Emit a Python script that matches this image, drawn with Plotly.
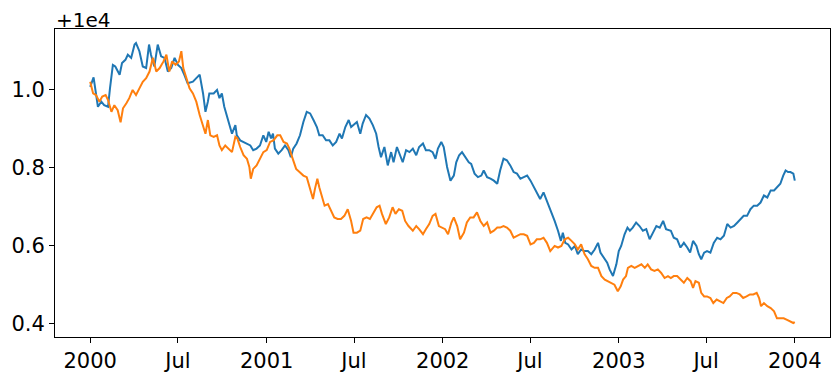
import pandas as pd
import plotly.graph_objects as go

# Days since 2000-01-01 and values (offset from 1e4)
blue_days = [0,7,16,23,29,37,41,47,52,61,66,73,78,85,92,95,102,109,116,122,126,133,140,147,154,161,168,175,182,189,195,202,213,220,227,234,239,244,247,256,263,268,273,278,283,289,294,301,304,311,318,325,332,338,345,352,359,365,370,375,379,383,390,397,404,411,416,421,428,435,442,449,456,463,470,475,482,489,496,503,510,517,522,529,536,541,548,553,560,565,572,579,586,593,598,603,610,617,624,629,636,641,648,655,662,669,676,682,690,696,703,710,716,721,728,733,740,747,754,759,765,771,778,785,790,797,804,811,816,823,830,837,844,850,857,864,871,878,885,892,899,906,913,920,926,933,940,947,954,963,970,976,980,985,991,998,1005,1011,1018,1025,1032,1039,1046,1053,1058,1065,1072,1077,1084,1091,1096,1101,1108,1114,1119,1125,1132,1139,1146,1153,1160,1167,1174,1181,1188,1194,1204,1210,1217,1224,1231,1238,1244,1250,1257,1262,1267,1273,1279,1286,1293,1300,1307,1314,1321,1328,1335,1342,1349,1355,1362,1369,1376,1383,1390,1397,1404,1411,1418,1424,1431,1437,1442,1447,1452,1458,1461]
blue_vals = [1.006,1.030,0.955,0.968,0.959,0.955,1.002,1.062,1.058,1.037,1.067,1.075,1.088,1.080,1.114,1.118,1.097,1.058,1.054,1.114,1.088,1.058,1.114,1.084,1.080,1.045,1.054,1.080,1.062,1.054,1.037,1.015,1.019,1.028,1.037,0.989,0.942,0.968,0.989,0.989,0.998,0.977,0.989,0.955,0.934,0.903,0.886,0.908,0.882,0.869,0.865,0.861,0.856,0.844,0.848,0.856,0.882,0.865,0.891,0.874,0.886,0.848,0.835,0.844,0.856,0.844,0.826,0.848,0.861,0.882,0.916,0.942,0.938,0.921,0.903,0.882,0.882,0.869,0.869,0.856,0.865,0.886,0.874,0.903,0.921,0.903,0.912,0.916,0.886,0.912,0.934,0.925,0.908,0.886,0.852,0.826,0.852,0.805,0.839,0.813,0.852,0.835,0.813,0.844,0.839,0.848,0.831,0.852,0.861,0.844,0.844,0.839,0.822,0.848,0.865,0.852,0.801,0.766,0.779,0.813,0.831,0.839,0.826,0.813,0.809,0.784,0.775,0.779,0.792,0.775,0.771,0.766,0.758,0.792,0.822,0.818,0.805,0.788,0.784,0.771,0.775,0.779,0.766,0.749,0.732,0.719,0.736,0.715,0.689,0.663,0.638,0.612,0.633,0.607,0.603,0.590,0.599,0.578,0.590,0.586,0.586,0.578,0.590,0.607,0.582,0.569,0.556,0.539,0.522,0.552,0.586,0.599,0.629,0.646,0.638,0.646,0.659,0.650,0.638,0.642,0.616,0.633,0.650,0.646,0.663,0.642,0.638,0.620,0.616,0.595,0.607,0.595,0.582,0.612,0.599,0.578,0.565,0.582,0.586,0.582,0.607,0.620,0.616,0.625,0.655,0.646,0.650,0.659,0.668,0.676,0.676,0.693,0.702,0.702,0.710,0.728,0.723,0.741,0.741,0.749,0.758,0.779,0.792,0.788,0.788,0.784,0.766]

orange_days = [0,6,12,19,25,32,37,44,50,57,63,68,75,81,88,95,102,109,116,123,130,137,144,152,158,164,170,177,184,189,193,199,206,213,220,227,234,239,244,249,256,263,268,273,280,287,294,301,305,311,318,325,330,333,338,345,352,359,366,373,380,388,394,401,408,413,421,427,434,442,449,456,462,466,471,475,479,486,493,499,506,513,520,527,534,541,546,553,560,566,573,580,587,594,600,605,613,620,627,633,640,647,653,660,669,676,682,690,696,703,710,716,723,730,736,742,749,754,761,767,775,781,788,795,802,809,816,823,830,837,844,850,857,864,871,878,885,892,899,906,913,920,926,933,940,947,954,963,970,977,984,991,998,1005,1011,1018,1025,1032,1039,1046,1053,1060,1067,1074,1080,1087,1094,1100,1105,1111,1115,1122,1129,1136,1143,1150,1156,1163,1170,1177,1184,1191,1198,1204,1210,1217,1224,1231,1238,1245,1250,1255,1262,1267,1273,1279,1286,1292,1299,1306,1313,1320,1326,1333,1340,1347,1354,1361,1368,1375,1382,1387,1391,1397,1404,1411,1418,1424,1431,1438,1445,1452,1458,1461]
orange_vals = [1.019,0.989,0.985,0.968,0.981,0.985,0.972,0.942,0.959,0.946,0.915,0.951,0.964,0.977,0.998,0.985,1.002,1.019,1.028,1.045,1.080,1.045,1.054,1.071,1.088,1.045,1.071,1.062,1.071,1.097,1.054,1.028,1.002,0.989,0.968,0.934,0.908,0.886,0.921,0.882,0.878,0.882,0.856,0.844,0.856,0.848,0.839,0.878,0.874,0.852,0.831,0.822,0.801,0.771,0.796,0.805,0.822,0.839,0.844,0.865,0.869,0.882,0.882,0.865,0.861,0.848,0.818,0.796,0.788,0.779,0.775,0.745,0.719,0.745,0.771,0.749,0.732,0.702,0.706,0.689,0.672,0.668,0.668,0.676,0.693,0.663,0.633,0.633,0.638,0.668,0.672,0.668,0.685,0.698,0.702,0.681,0.655,0.672,0.698,0.681,0.693,0.689,0.663,0.650,0.638,0.650,0.642,0.629,0.642,0.655,0.676,0.681,0.650,0.646,0.642,0.629,0.659,0.672,0.650,0.616,0.633,0.659,0.672,0.672,0.685,0.663,0.650,0.659,0.633,0.638,0.646,0.646,0.650,0.646,0.638,0.620,0.625,0.629,0.629,0.625,0.603,0.607,0.616,0.616,0.620,0.607,0.586,0.599,0.595,0.599,0.616,0.620,0.612,0.603,0.590,0.603,0.578,0.565,0.548,0.543,0.543,0.522,0.513,0.509,0.505,0.500,0.483,0.496,0.513,0.522,0.543,0.548,0.543,0.548,0.552,0.543,0.552,0.539,0.535,0.539,0.530,0.517,0.522,0.517,0.522,0.522,0.513,0.505,0.517,0.509,0.492,0.509,0.505,0.479,0.470,0.470,0.466,0.453,0.462,0.457,0.453,0.466,0.470,0.479,0.479,0.475,0.466,0.470,0.475,0.475,0.479,0.466,0.445,0.453,0.445,0.440,0.432,0.414,0.414,0.414,0.410,0.406,0.402,0.404]

x_tick_dates = ["2000-01-01", "2000-07-01", "2001-01-01", "2001-07-01", "2002-01-01",
                "2002-07-01", "2003-01-01", "2003-07-01", "2004-01-01"]
x_tick_labels = ["2000", "Jul", "2001", "Jul", "2002", "Jul", "2003", "Jul", "2004"]
y_tick_vals = [0.4, 0.6, 0.8, 1.0]
y_tick_labels = ["0.4", "0.6", "0.8", "1.0"]
offset_label = "+1e4"

n_b = min(len(blue_days), len(blue_vals))
n_o = min(len(orange_days), len(orange_vals))

start = pd.Timestamp("2000-01-01")
blue_x = start + pd.to_timedelta(blue_days[:n_b], unit="D")
orange_x = start + pd.to_timedelta(orange_days[:n_o], unit="D")

fig = go.Figure()
fig.add_trace(go.Scatter(x=blue_x, y=blue_vals[:n_b], mode="lines",
                         line=dict(color="#1f77b4", width=2), showlegend=False))
fig.add_trace(go.Scatter(x=orange_x, y=orange_vals[:n_o], mode="lines",
                         line=dict(color="#ff7f0e", width=2), showlegend=False))

font = dict(family="DejaVu Sans", size=21, color="black")
axis_common = dict(showgrid=False, zeroline=False, showline=True, mirror=True,
                   linecolor="black", linewidth=1, ticks="outside", ticklen=5,
                   tickwidth=1, tickcolor="black", tickfont=font, automargin=False)

# The page body adds an 8 px offset; the figure is sized to fit the window.
fig.update_layout(
    width=832, height=369,
    margin=dict(l=47, r=10, t=21, b=40, autoexpand=False),
    paper_bgcolor="white", plot_bgcolor="white",
    font=font,
    xaxis=dict(range=["1999-10-20", "2004-03-14"], tickmode="array",
               tickvals=x_tick_dates, ticktext=x_tick_labels, **axis_common),
    yaxis=dict(range=[0.3662, 1.1538], tickmode="array",
               tickvals=y_tick_vals, ticktext=y_tick_labels, **axis_common),
    annotations=[dict(text=offset_label, xref="paper", yref="paper", x=0, y=1,
                      xanchor="left", yanchor="bottom", showarrow=False,
                      font=dict(family="DejaVu Sans", size=20, color="black"),
                      borderpad=0, xshift=0, yshift=-4)],
)

fig.write_html("out.html")
